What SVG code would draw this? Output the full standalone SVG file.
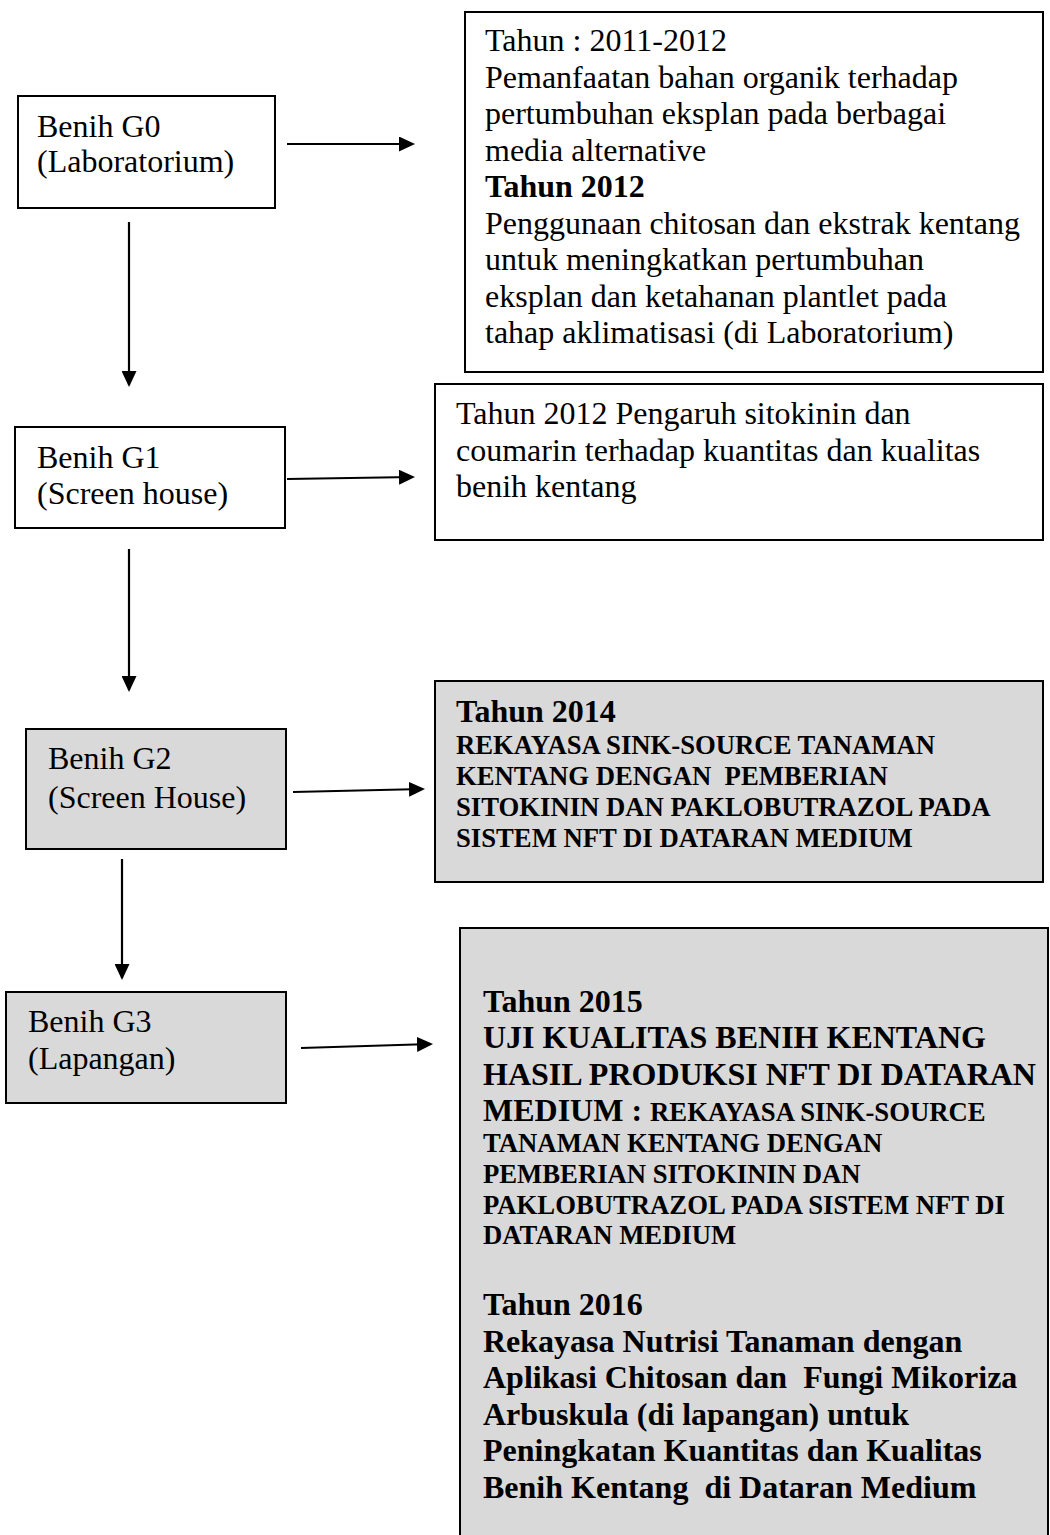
<svg xmlns="http://www.w3.org/2000/svg" width="1050" height="1535" viewBox="0 0 1050 1535">
<defs>
<style>
.box{stroke:#000;stroke-width:2;fill:#fff}
.gray{fill:#d9d9d9}
.t{font-family:"Liberation Serif","Times New Roman",serif;font-size:32px;fill:#000}
.b{font-weight:bold}
.s{font-size:26.7px;font-weight:bold}
.conn line{stroke:#000;stroke-width:2.2;marker-end:url(#ah)}
</style>
<marker id="ah" markerUnits="userSpaceOnUse" markerWidth="16" markerHeight="15" refX="14" refY="7.5" orient="auto">
<path d="M0,0 L16,7.5 L0,15 Z" fill="#000"/>
</marker>
</defs>
<rect width="1050" height="1535" fill="#fff"/>
<g id="g0">
<rect class="box" x="18" y="96" width="257" height="112"/>
<text class="t" x="37" y="137">Benih G0</text>
<text class="t" x="37" y="172">(Laboratorium)</text>
</g>
<g id="g1">
<rect class="box" x="15" y="427" width="270" height="101"/>
<text class="t" x="37" y="468">Benih G1</text>
<text class="t" x="37" y="504">(Screen house)</text>
</g>
<g id="g2">
<rect class="box gray" x="26" y="729" width="260" height="120"/>
<text class="t" x="48" y="769">Benih G2</text>
<text class="t" x="48" y="808">(Screen House)</text>
</g>
<g id="g3">
<rect class="box gray" x="6" y="992" width="280" height="111"/>
<text class="t" x="28" y="1032">Benih G3</text>
<text class="t" x="28" y="1069">(Lapangan)</text>
</g>
<g id="r1">
<rect class="box" x="465" y="12" width="578" height="360"/>
<text class="t" x="485" y="51">Tahun : 2011-2012</text>
<text class="t" x="485" y="87.5">Pemanfaatan bahan organik terhadap</text>
<text class="t" x="485" y="124">pertumbuhan eksplan pada berbagai</text>
<text class="t" x="485" y="160.5">media alternative</text>
<text class="t b" x="485" y="197">Tahun 2012</text>
<text class="t" x="485" y="233.5">Penggunaan chitosan dan ekstrak kentang</text>
<text class="t" x="485" y="270">untuk meningkatkan pertumbuhan</text>
<text class="t" x="485" y="306.5">eksplan dan ketahanan plantlet pada</text>
<text class="t" x="485" y="343">tahap aklimatisasi (di Laboratorium)</text>
</g>
<g id="r2">
<rect class="box" x="435" y="384" width="608" height="156"/>
<text class="t" x="456" y="424">Tahun 2012 Pengaruh sitokinin dan</text>
<text class="t" x="456" y="461">coumarin terhadap kuantitas dan kualitas</text>
<text class="t" x="456" y="497">benih kentang</text>
</g>
<g id="r3">
<rect class="box gray" x="435" y="681" width="608" height="201"/>
<text class="t b" x="456" y="722">Tahun 2014</text>
<text class="t s" x="456" y="754">REKAYASA SINK-SOURCE TANAMAN</text>
<text class="t s" x="456" y="785" xml:space="preserve">KENTANG DENGAN  PEMBERIAN</text>
<text class="t s" x="456" y="816">SITOKININ DAN PAKLOBUTRAZOL PADA</text>
<text class="t s" x="456" y="847">SISTEM NFT DI DATARAN MEDIUM</text>
</g>
<g id="r4">
<rect class="box gray" x="460" y="928" width="588" height="620"/>
<text class="t b" x="483" y="1012">Tahun 2015</text>
<text class="t b" x="483" y="1048">UJI KUALITAS BENIH KENTANG</text>
<text class="t b" x="483" y="1084.5">HASIL PRODUKSI NFT DI DATARAN</text>
<text class="t b" x="483" y="1120.5">MEDIUM : <tspan class="s">REKAYASA SINK-SOURCE</tspan></text>
<text class="t s" x="483" y="1152">TANAMAN KENTANG DENGAN</text>
<text class="t s" x="483" y="1183">PEMBERIAN SITOKININ DAN</text>
<text class="t s" x="483" y="1214">PAKLOBUTRAZOL PADA SISTEM NFT DI</text>
<text class="t s" x="483" y="1244">DATARAN MEDIUM</text>
<text class="t b" x="483" y="1315">Tahun 2016</text>
<text class="t b" x="483" y="1351.5">Rekayasa Nutrisi Tanaman dengan</text>
<text class="t b" x="483" y="1388" xml:space="preserve">Aplikasi Chitosan dan  Fungi Mikoriza</text>
<text class="t b" x="483" y="1424.5">Arbuskula (di lapangan) untuk</text>
<text class="t b" x="483" y="1461">Peningkatan Kuantitas dan Kualitas</text>
<text class="t b" x="483" y="1497.5" xml:space="preserve">Benih Kentang  di Dataran Medium</text>
</g>
<g id="connectors" class="conn">
<line x1="287" y1="144" x2="413" y2="144"/>
<line x1="129" y1="222" x2="129" y2="385"/>
<line x1="287" y1="479" x2="413" y2="477"/>
<line x1="129" y1="549" x2="129" y2="690"/>
<line x1="293" y1="792" x2="423" y2="789"/>
<line x1="122" y1="859" x2="122" y2="978"/>
<line x1="301" y1="1048" x2="431" y2="1044"/>
</g>
</svg>
